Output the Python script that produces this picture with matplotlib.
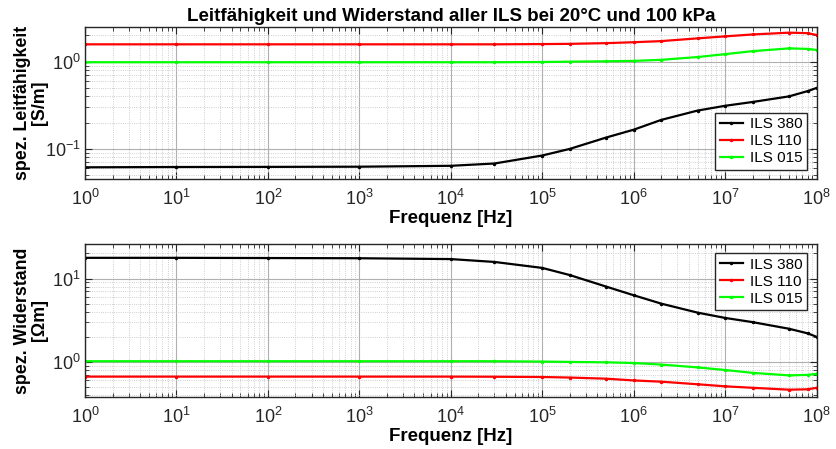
import matplotlib
matplotlib.use("Agg")
import matplotlib.pyplot as plt
from matplotlib.ticker import LogLocator, NullFormatter, FixedLocator

plt.rcParams['font.family'] = ['Liberation Sans', 'DejaVu Sans']
plt.rcParams['mathtext.default'] = 'regular'

freq = [1, 10, 100, 1e3, 1e4, 3e4, 1e5, 2e5, 5e5, 1e6, 2e6, 5e6, 1e7, 2e7, 5e7, 8e7, 1e8]

sigma_380 = [0.0615, 0.062, 0.0622, 0.0625, 0.064, 0.068, 0.084, 0.100, 0.135, 0.166, 0.215, 0.275, 0.312, 0.345, 0.40, 0.46, 0.50]
sigma_110 = [1.58, 1.58, 1.58, 1.58, 1.58, 1.58, 1.59, 1.60, 1.63, 1.67, 1.72, 1.85, 1.95, 2.05, 2.15, 2.12, 2.02]
sigma_015 = [0.985, 0.985, 0.985, 0.985, 0.985, 0.985, 0.99, 1.0, 1.01, 1.02, 1.05, 1.13, 1.22, 1.32, 1.42, 1.40, 1.36]

rho_380 = [17.7, 17.7, 17.6, 17.5, 17.1, 15.8, 13.4, 11.0, 8.0, 6.3, 5.0, 3.9, 3.37, 3.0, 2.5, 2.2, 2.0]
rho_110 = [0.667, 0.667, 0.667, 0.667, 0.667, 0.665, 0.66, 0.65, 0.63, 0.60, 0.58, 0.54, 0.51, 0.49, 0.465, 0.47, 0.49]
rho_015 = [1.02, 1.02, 1.02, 1.02, 1.02, 1.02, 1.01, 1.0, 0.99, 0.97, 0.93, 0.86, 0.80, 0.74, 0.69, 0.70, 0.72]

labels = ['ILS 380', 'ILS 110', 'ILS 015']
colors = ['#000000', '#ff0000', '#00ff00']

x_major = [10.0 ** i for i in range(0, 9)]
x_minor = [k * 10.0 ** i for i in range(0, 8) for k in range(2, 10)]

fig = plt.figure(figsize=(8.37, 4.49), dpi=100)
ax1 = fig.add_axes([0.1016, 0.601, 0.874, 0.339])
ax2 = fig.add_axes([0.1016, 0.1158, 0.874, 0.341])

def style(ax, ylim, ylabel):
    ax.set_xscale('log')
    ax.set_yscale('log')
    ax.set_xlim(1, 1e8)
    ax.set_ylim(*ylim)
    ax.xaxis.set_major_locator(FixedLocator(x_major))
    ax.xaxis.set_minor_locator(FixedLocator(x_minor))
    lo, hi = ylim
    import math
    y_major = [10.0 ** i for i in range(math.ceil(math.log10(lo)), math.floor(math.log10(hi)) + 1)]
    y_minor = [k * 10.0 ** i for i in range(math.floor(math.log10(lo)), math.floor(math.log10(hi)) + 1)
               for k in range(2, 10) if lo <= k * 10.0 ** i <= hi]
    ax.yaxis.set_major_locator(FixedLocator(y_major))
    ax.yaxis.set_minor_locator(FixedLocator(y_minor))
    ax.xaxis.set_minor_formatter(NullFormatter())
    ax.yaxis.set_minor_formatter(NullFormatter())
    ax.grid(True, which='major', color='#b0b0b0', linewidth=0.8, linestyle='-')
    ax.grid(True, which='minor', color='#c0c0c0', linewidth=0.6, linestyle=':')
    ax.set_axisbelow(True)
    ax.tick_params(which='both', direction='in', top=True, right=True, colors='#262626',
                   labelsize=13, labelcolor='#262626')
    ax.tick_params(axis='x', which='major', pad=7)
    ax.tick_params(axis='y', which='major', pad=3)
    ax.tick_params(which='major', length=5, width=0.8)
    ax.tick_params(which='minor', length=3, width=0.6)
    for s in ax.spines.values():
        s.set_color('#262626')
        s.set_linewidth(1.0)
    ax.set_xlabel('Frequenz [Hz]', fontsize=13.5, fontweight='bold', labelpad=1)
    ax.set_ylabel(ylabel, fontsize=12.8, fontweight='bold', linespacing=1.0)
    ax.yaxis.set_label_coords(-0.051, 0.5)

for vals, lab, c in zip([sigma_380, sigma_110, sigma_015], labels, colors):
    ax1.plot(freq, vals, color=c, lw=1.6, marker='.', ms=3, label=lab)
for vals, lab, c in zip([rho_380, rho_110, rho_015], labels, colors):
    ax2.plot(freq, vals, color=c, lw=1.6, marker='.', ms=3, label=lab)

style(ax1, (0.045, 2.5), 'spez. Leitfähigkeit\n[S/m]')
style(ax2, (0.38, 26), 'spez. Widerstand\n[Ωm]')

ax1.set_title('Leitfähigkeit und Widerstand aller ILS bei 20°C und 100 kPa',
              fontsize=13.5, fontweight='bold', pad=4)

for ax, loc in [(ax1, 'lower right'), (ax2, 'upper right')]:
    leg = ax.legend(loc=loc, fontsize=11, fancybox=False, framealpha=1,
                    edgecolor='#262626', handlelength=1.5, borderpad=0.3,
                    labelspacing=0.2, handletextpad=0.5, borderaxespad=0.6)
    leg.get_frame().set_linewidth(1.0)

fig.savefig('out.png', dpi=100)
